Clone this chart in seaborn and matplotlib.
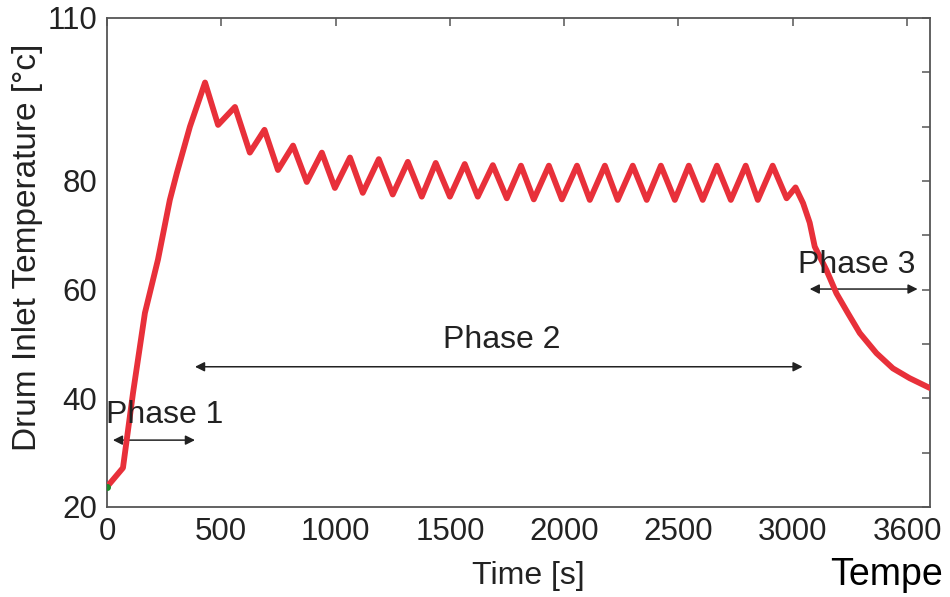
import pandas as pd
import matplotlib
matplotlib.use("Agg")
import matplotlib.pyplot as plt
import seaborn as sns


# drum inlet temperature (time in s, temperature in degC)
time_s = [0, 70, 114, 166, 223, 275, 306, 363, 429, 486, 560, 625, 689, 748,
          814, 874, 940, 997, 1063, 1119, 1189, 1250, 1316, 1377, 1438, 1500,
          1565, 1622, 1688, 1749, 1811, 1867, 1933, 1990, 2056, 2112, 2178,
          2234, 2300, 2361, 2423, 2484, 2545, 2606, 2668, 2729, 2794, 2847,
          2912, 2973, 3012, 3045, 3074, 3096, 3147, 3191, 3242, 3293, 3366,
          3438, 3511, 3599]
temp_c = [23.7, 27.2, 41.0, 55.7, 65.5, 76.5, 81.5, 90.0, 98.1, 90.3, 93.6,
          85.2, 89.4, 82.0, 86.5, 79.8, 85.2, 78.7, 84.3, 77.8, 84.0, 77.5,
          83.5, 77.1, 83.3, 77.1, 83.1, 77.1, 82.9, 76.8, 82.8, 76.6, 82.8,
          76.6, 82.8, 76.5, 82.8, 76.5, 82.8, 76.5, 82.8, 76.5, 82.8, 76.5,
          82.8, 76.5, 82.8, 76.5, 82.8, 76.8, 78.8, 75.9, 72.3, 67.9, 63.6,
          59.3, 55.6, 52.0, 48.3, 45.5, 43.7, 41.9]

x_ticks = [0, 500, 1000, 1500, 2000, 2500, 3000, 3500]
x_tick_labels = ["0", "500", "1000", "1500", "2000", "2500", "3000", "3600"]
y_major = [20, 40, 60, 80, 110]
y_minor = [30, 50, 70, 90, 100]

# phase name, text x, text y, arrow start, arrow end, arrow y
phases = [
    ("Phase 1", 254, 36.9, 26, 385, 32.3),
    ("Phase 2", 1727, 50.8, 385, 3043, 45.8),
    ("Phase 3", 3279, 64.6, 3074, 3546, 60.1),
]


def main():
    sns.set_style("white")
    plt.rcParams["font.family"] = ["Liberation Sans", "DejaVu Sans"]

    df = pd.DataFrame({"time": time_s, "temp": temp_c})

    fig = plt.figure(figsize=(9.5, 5.97), dpi=100)
    ax = fig.add_axes([0.1126, 0.1508, 0.8663, 0.8193])

    sns.lineplot(data=df, x="time", y="temp", ax=ax, color="#e8303a",
                 linewidth=4.2, estimator=None, solid_joinstyle="round",
                 solid_capstyle="round", zorder=3)
    ax.plot(time_s[0], temp_c[0], "o", color="#1e8a2a", markersize=4,
            zorder=4)

    for name, tx, ty, x0, x1, ay in phases:
        ax.annotate("", xy=(x1, ay), xytext=(x0, ay),
                    arrowprops=dict(arrowstyle="<|-|>", color="#222222",
                                    lw=1.1, mutation_scale=14,
                                    shrinkA=0, shrinkB=0), zorder=2)
        ax.text(tx, ty, name, ha="center", va="center", fontsize=23,
                color="#222222", zorder=5)

    ax.set_xlim(0, 3600)
    ax.set_ylim(20, 110)
    ax.set_xticks(x_ticks)
    ax.set_xticklabels(x_tick_labels)
    ax.set_yticks(y_major)
    ax.set_yticks(y_minor, minor=True)

    ax.tick_params(which="both", direction="in", length=6, width=1.1,
                   color="#555555", top=True, right=True)
    ax.tick_params(which="major", labelsize=22.5, labelcolor="#222222",
                   pad=7)
    for sp in ax.spines.values():
        sp.set_color("#555555")
        sp.set_linewidth(1.3)

    ax.set_xlabel("Time [s]", fontsize=23, color="#222222")
    ax.set_ylabel("Drum Inlet Temperature [°c]", fontsize=24,
                  color="#222222")
    ax.xaxis.set_label_coords(0.512, -0.11)
    ax.yaxis.set_label_coords(-0.078, 0.53)

    # start of a caption that the source image cuts off at its right edge
    fig.text(0.874, 0.02, "Tempe", fontsize=27, color="black",
             ha="left", va="baseline")

    fig.savefig("out.png", dpi=100)


if __name__ == "__main__":
    main()
